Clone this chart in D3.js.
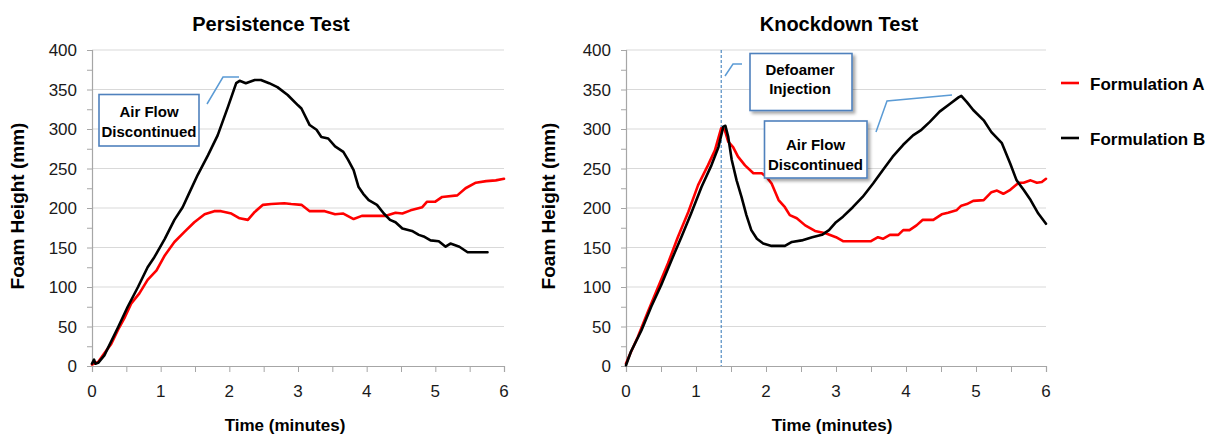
<!DOCTYPE html>
<html><head><meta charset="utf-8">
<script src="https://cdn.jsdelivr.net/npm/d3@7"></script>
<style>
html,body{margin:0;padding:0;background:#fff;}
svg{display:block;font-family:"Liberation Sans",Arial,Helvetica,sans-serif;}
</style></head>
<body><svg id="chart" width="1213" height="437"></svg>
<script>
// ---- data (time in minutes, foam height in mm) ----
const yTicks = [0,50,100,150,200,250,300,350,400];
const xTicks = [0,1,2,3,4,5,6];
const seriesNames = ["Formulation A","Formulation B"];
const chartTitles = ["Persistence Test","Knockdown Test"];

const persistATime = [0,0.09,0.18,0.28,0.38,0.48,0.57,0.69,0.81,0.94,1.06,1.20,1.35,1.49,1.64,1.78,1.88,2.03,2.15,2.27,2.37,2.49,2.61,2.80,2.90,3.05,3.17,3.39,3.54,3.66,3.81,3.93,4.12,4.27,4.42,4.52,4.64,4.81,4.88,5.0,5.10,5.32,5.44,5.59,5.74,5.88,6.0];
const persistA = [2,5,16,28,46,62,79,92,109,121,140,157,170,182,192,196,196,193,187,185,195,204,205,206,205,204,196,196,192,193,186,190,190,190,194,193,197,201,208,208,214,216,225,232,234,235,237];

const persistBTime = [0,0.03,0.05,0.09,0.18,0.38,0.52,0.67,0.81,0.91,1.06,1.20,1.32,1.40,1.54,1.69,1.83,1.98,2.10,2.15,2.24,2.37,2.46,2.58,2.70,2.85,3.0,3.05,3.17,3.27,3.34,3.44,3.54,3.66,3.73,3.81,3.88,3.95,4.03,4.15,4.25,4.34,4.42,4.52,4.66,4.76,4.83,4.93,5.05,5.15,5.22,5.35,5.47,5.76];
const persistB = [3,8,3,4,13.5,49,75,100,125,138,161,185,201,216,242,267,292,328,358,361,358,362,362,358,353,343,330,326,305,299,290,288,278,271,261,248,227,218,210,204,193,185,182,174,171,166,164,159,158,151,155,151,144,144];

const knockATime = [0,0.05,0.17,0.31,0.45,0.60,0.74,0.89,1.03,1.17,1.27,1.36,1.41,1.46,1.53,1.60,1.70,1.82,1.94,2.01,2.08,2.18,2.27,2.34,2.44,2.56,2.70,2.85,3.0,3.10,3.50,3.60,3.67,3.77,3.89,3.96,4.05,4.15,4.24,4.39,4.51,4.60,4.72,4.79,4.87,4.96,5.11,5.22,5.30,5.39,5.49,5.61,5.68,5.78,5.87,5.94,6.0];
const knockA = [3,13.5,37,68,98,130,163,195,229,254,273,301,299,284,277,265,254,244,244,239,231,210,201,191,187,178,171,168,163,158,158,163,161,166,166,172,172,178,185,185,192,194,197,203,205,209,210,220,222,218,223,232,232,235,232,233,237];

const knockBTime = [0,0.07,0.22,0.36,0.50,0.65,0.79,0.93,1.08,1.22,1.32,1.39,1.42,1.46,1.51,1.58,1.65,1.72,1.79,1.87,1.96,2.08,2.27,2.37,2.51,2.66,2.80,2.90,3.0,3.10,3.24,3.38,3.53,3.67,3.81,3.96,4.10,4.22,4.34,4.48,4.63,4.75,4.79,4.87,4.96,5.11,5.22,5.37,5.49,5.58,5.68,5.78,5.89,6.0];
const knockB = [1,18,45,75,102,134,163,193,227,254,277,303,304,290,261,235,214,191,172,161,155,152,152,157,159,163,166,172,182,189,201,214,231,248,265,280,292,299,309,322,332,340,342,334,324,311,296,282,256,235,223,210,193,180];

const defoamerTime = 1.36;

// ---- drawing ----
const svg = d3.select("#chart");
const colors = {A:"#ff0000", B:"#000000"};
const blue = "#4f81bd";

const defs = svg.append("defs");
const f = defs.append("filter").attr("id","shadow").attr("x","-20%").attr("y","-20%").attr("width","150%").attr("height","150%");
f.append("feDropShadow").attr("dx",2.5).attr("dy",2.5).attr("stdDeviation",1.5).attr("flood-color","#000").attr("flood-opacity",0.35);

const y = d3.scaleLinear().domain([0,400]).range([366,50]);

function panel(x0, x1, opts){
  const x = d3.scaleLinear().domain([0,6]).range([x0,x1]);
  const g = svg.append("g");
  // gridlines
  g.selectAll("line.grid").data(yTicks.slice(1)).join("line")
    .attr("x1",x0).attr("x2",x1).attr("y1",d=>y(d)).attr("y2",d=>y(d))
    .attr("stroke","#d9d9d9").attr("stroke-width",1.2);
  // y axis
  const yAx = g.append("g").attr("transform",`translate(${x0},0)`)
    .call(d3.axisLeft(y).tickValues(d3.range(0,401,25)).tickSize(5).tickFormat(""));
  yAx.select(".domain").attr("stroke","#a6a6a6").attr("stroke-width",1.2);
  yAx.selectAll(".tick line").attr("stroke","#a6a6a6");
  g.selectAll("text.yl").data(yTicks).join("text")
    .attr("x",x0-15).attr("y",d=>y(d)).attr("dy","0.36em")
    .attr("text-anchor","end").attr("font-size",17).attr("fill","#1a1a1a").text(d=>d);
  // x axis
  const xAx = g.append("g").attr("transform",`translate(0,${y(0)})`)
    .call(d3.axisBottom(x).tickValues(d3.range(0,6.01,0.5)).tickSize(6).tickFormat(""));
  xAx.select(".domain").attr("stroke","#a6a6a6").attr("stroke-width",1.2);
  xAx.selectAll(".tick line").attr("stroke","#a6a6a6");
  g.selectAll("text.xl").data(xTicks).join("text")
    .attr("x",d=>x(d)).attr("y",397)
    .attr("text-anchor","middle").attr("font-size",17).attr("fill","#1a1a1a").text(d=>d);
  // titles
  g.append("text").attr("x",opts.titleX).attr("y",31).attr("text-anchor","middle")
    .attr("font-size",20).attr("font-weight","bold").text(opts.title);
  g.append("text").attr("x",opts.xTitleX).attr("y",431).attr("text-anchor","middle")
    .attr("font-size",17).attr("font-weight","bold").text("Time (minutes)");
  g.append("text").attr("transform",`translate(${opts.yTitleX},206) rotate(-90)`)
    .attr("dy","0.35em").attr("text-anchor","middle")
    .attr("font-size",19).attr("font-weight","bold").text("Foam Height (mm)");
  return {g,x};
}

function drawLine(p, times, vals, color){
  const pts = times.map((t,i)=>[t,vals[i]]);
  p.g.append("path").datum(pts)
    .attr("d", d3.line().x(d=>p.x(d[0])).y(d=>y(d[1])).curve(d3.curveLinear))
    .attr("fill","none").attr("stroke",color).attr("stroke-width",2.6)
    .attr("stroke-linejoin","round").attr("stroke-linecap","round");
}

function callout(g, box, lines, leader, shadow){
  g.append("path").attr("d", d3.line()(leader)).attr("fill","none")
    .attr("stroke","#5b9bd5").attr("stroke-width",1.5);
  const r = g.append("rect").attr("x",box[0]).attr("y",box[1]).attr("width",box[2]).attr("height",box[3])
    .attr("fill","#fff").attr("stroke",blue).attr("stroke-width",1.6);
  if (shadow) r.attr("filter","url(#shadow)");
  lines.forEach(l=>{
    g.append("text").attr("x",l[0]).attr("y",l[1]).attr("text-anchor","middle")
      .attr("font-size",15).attr("font-weight","bold").text(l[2]);
  });
}

// left panel
const L = panel(92, 504, {title:chartTitles[0], titleX:271, xTitleX:285, yTitleX:17});
drawLine(L, persistATime, persistA, colors.A);
drawLine(L, persistBTime, persistB, colors.B);
callout(L.g, [99,94.5,100,51.5], [[149,116.5,"Air Flow"],[149,136.5,"Discontinued"]],
  [[207,104],[223,77],[239,77]], false);

// right panel
const R = panel(626, 1046, {title:chartTitles[1], titleX:839, xTitleX:832, yTitleX:548});
R.g.append("line").attr("x1",R.x(defoamerTime)).attr("x2",R.x(defoamerTime)).attr("y1",y(400)).attr("y2",y(0))
  .attr("stroke","#2e75b6").attr("stroke-width",1).attr("stroke-dasharray","3,2");
drawLine(R, knockATime, knockA, colors.A);
drawLine(R, knockBTime, knockB, colors.B);
callout(R.g, [750,53.5,102,57], [[800,75,"Defoamer"],[800,93.5,"Injection"]],
  [[725,76],[733,64],[742,64]], true);
callout(R.g, [764.5,121,102.5,57], [[815.5,150,"Air Flow"],[815.5,170,"Discontinued"]],
  [[876,132],[887,101],[952,95]], true);

// legend
const leg = svg.append("g");
[[seriesNames[0],colors.A,83],[seriesNames[1],colors.B,138]].forEach(d=>{
  leg.append("line").attr("x1",1061).attr("x2",1079).attr("y1",d[2]).attr("y2",d[2])
    .attr("stroke",d[1]).attr("stroke-width",2.6);
  leg.append("text").attr("x",1090).attr("y",d[2]+6.5).attr("font-size",17)
    .attr("font-weight","bold").text(d[0]);
});
</script>
</body></html>
